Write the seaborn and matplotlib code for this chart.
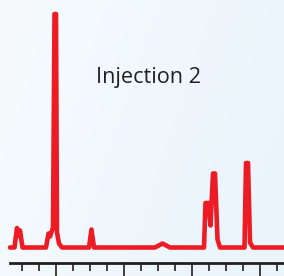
import numpy as np
import pandas as pd
import matplotlib
matplotlib.use("Agg")
import matplotlib.pyplot as plt
from matplotlib.colors import LinearSegmentedColormap
from matplotlib.ticker import MultipleLocator
import seaborn as sns

# chromatogram trace: retention time (min) / signal (a.u.)
time_min = [0.658, 0.790, 0.863, 0.907, 0.952, 1.025,
            1.715, 1.789, 1.833, 1.921, 1.965, 2.009, 2.038, 2.097, 2.185,
            2.978, 3.051, 3.125,
            4.916, 5.137, 5.357,
            6.356, 6.399, 6.488, 6.546, 6.620, 6.679, 6.752, 6.825,
            7.545, 7.589, 7.648, 7.707, 7.795, 8.705]
signal = [0, 0, 19.5, 12, 17, 0,
          0, 14, 11, 20, 233.5, 233.5, 15, 4, 0,
          0, 18, 0,
          0, 4, 0,
          0, 44.5, 44.5, 22, 74, 74, 8, 0,
          0, 84.5, 84.5, 5, 0, 0]
label = "Injection 2"

trace = pd.DataFrame({"time": time_min, "signal": signal})

sns.set_style("white")
plt.rcParams['font.family'] = ['Open Sans', 'DejaVu Sans']

fig = plt.figure(figsize=(2.84, 2.76), dpi=100)

# soft blue background gradient
bg = fig.add_axes([0, 0, 1, 1], zorder=0)
gx, gy = np.meshgrid(np.linspace(0, 1, 200), np.linspace(0, 1, 200))
grad = 0.75 * gx + 0.25 * gy
cmap = LinearSegmentedColormap.from_list("bg", ["#f7fbfe", "#e9f4fb"])
bg.imshow(grad, cmap=cmap, aspect="auto", extent=[0, 1, 0, 1], origin="upper")
bg.axis("off")

ax = fig.add_axes([10 / 284, 0.046, 274 / 284, 0.954], zorder=1)
ax.patch.set_alpha(0)

sns.lineplot(data=trace, x="time", y="signal", sort=False, estimator=None,
             color="#ed1c24", linewidth=3.3, ax=ax, clip_on=False)

ax.set_xlim(0.658, 8.705)
ax.set_ylim(-15.8, 247.5)
ax.set_xlabel("")
ax.set_ylabel("")
ax.set_yticks([])

ax.xaxis.set_major_locator(MultipleLocator(2))
ax.xaxis.set_minor_locator(MultipleLocator(0.5))
ax.tick_params(axis="x", which="major", direction="out", length=9, width=1.2,
               color="#231f20", labelbottom=False, bottom=True)
ax.tick_params(axis="x", which="minor", direction="out", length=6, width=1.2,
               color="#231f20", bottom=True)

for side in ["top", "left", "right"]:
    ax.spines[side].set_visible(False)
ax.spines["bottom"].set_color("#231f20")
ax.spines["bottom"].set_linewidth(2.0)

fig.text(149 / 284, 1 - 77 / 276, label, ha="center", va="center",
         fontsize=15.6, color="#231f20")

fig.savefig("out.png", dpi=100)
